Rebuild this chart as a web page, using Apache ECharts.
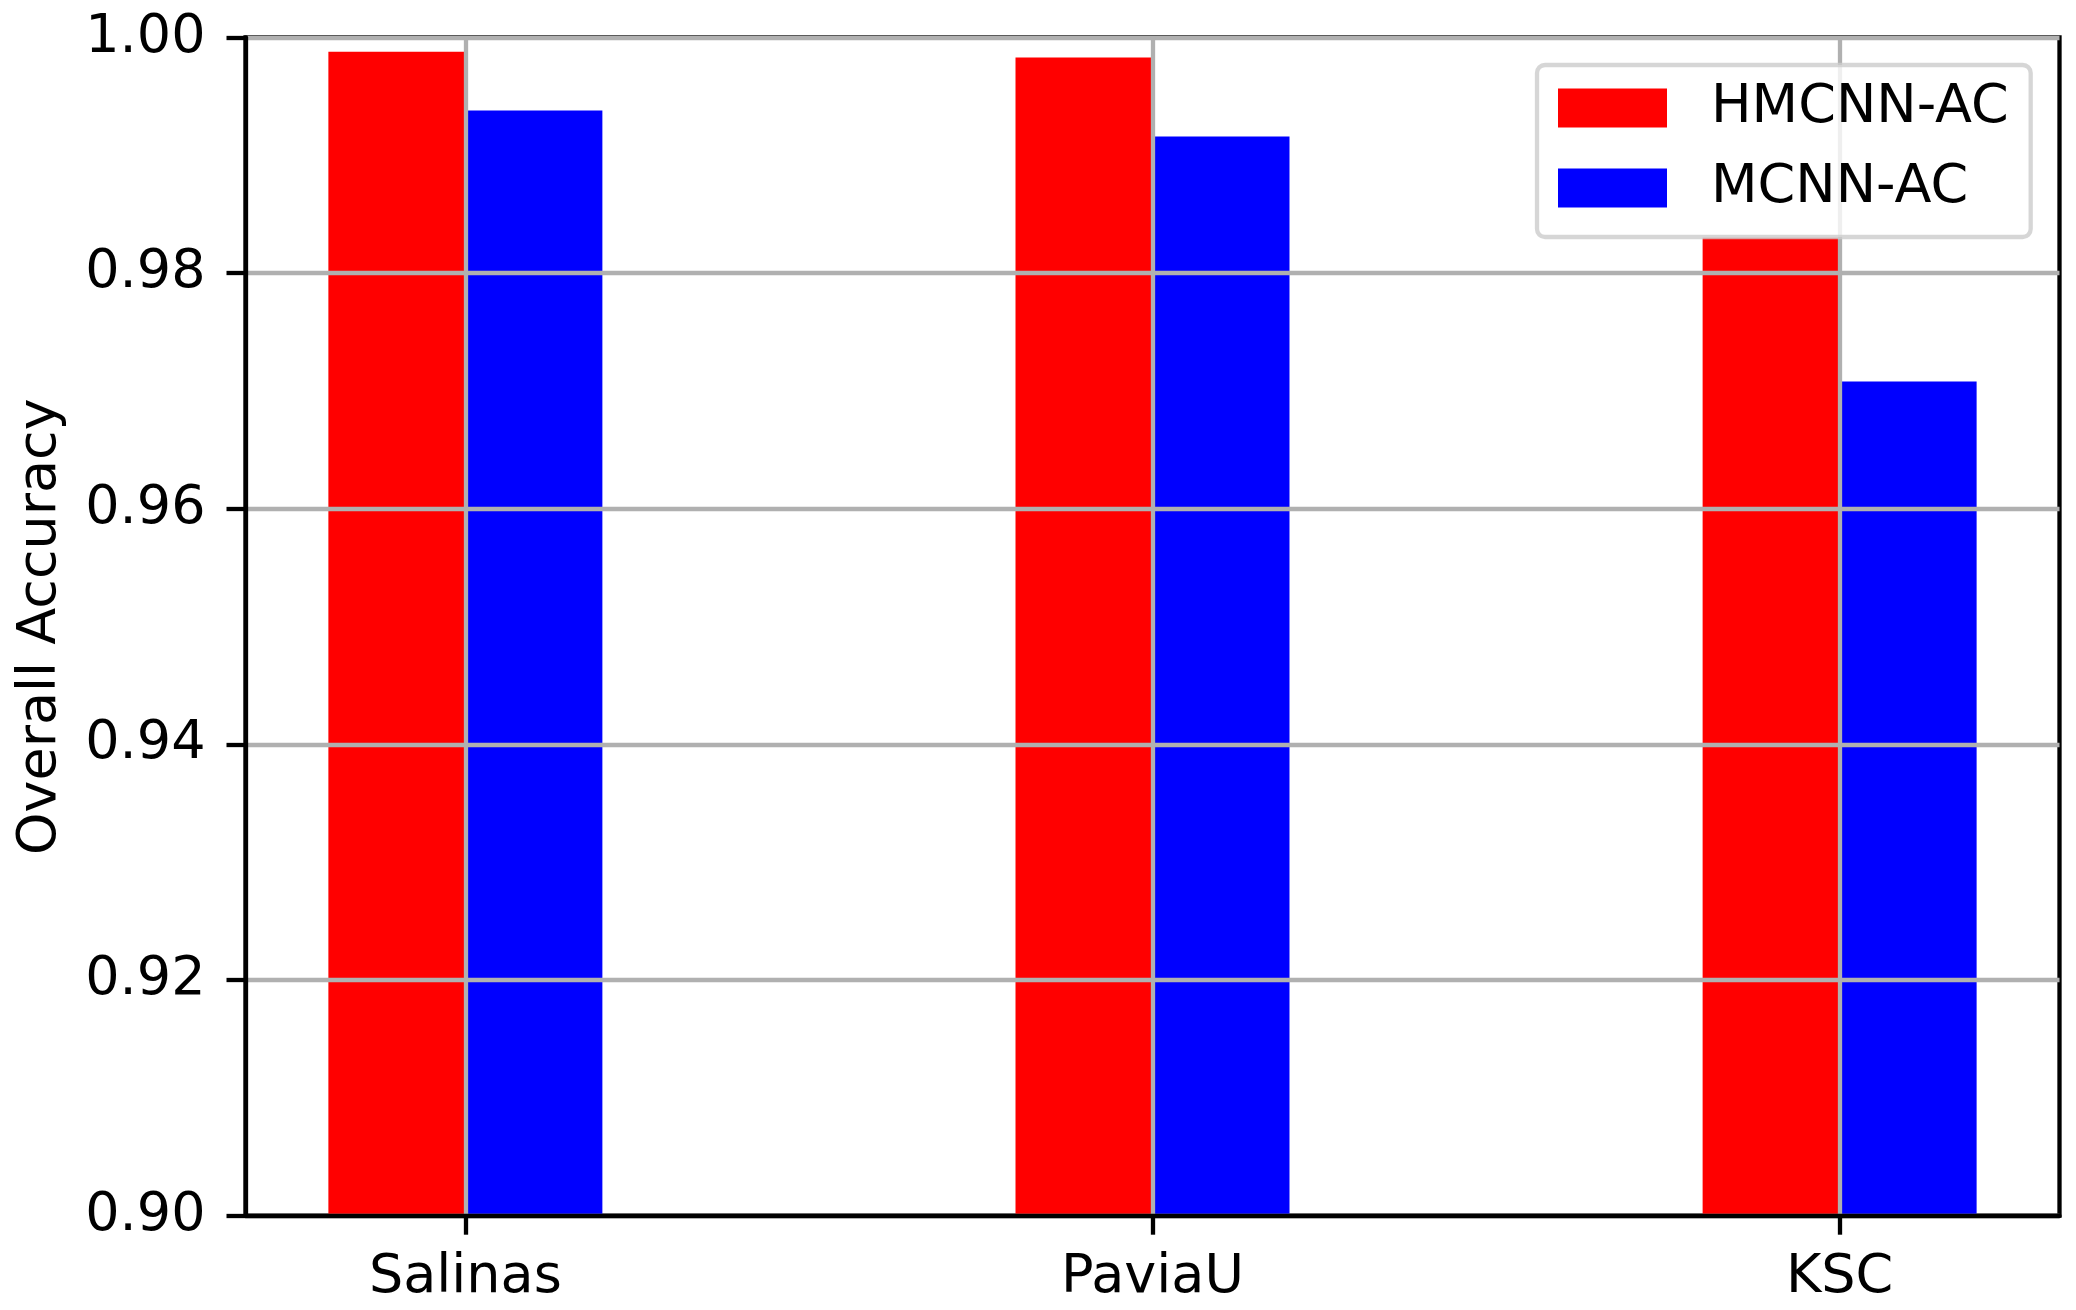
<!DOCTYPE html>
<html>
<head>
<meta charset="utf-8">
<title>Overall Accuracy</title>
<script src="https://cdn.jsdelivr.net/npm/echarts@6/dist/echarts.min.js"></script>
<style>
  html, body { margin: 0; padding: 0; background: #fff; }
  #chart-overall-accuracy { width: 2076px; height: 1310px; }
</style>
</head>
<body>
<div id="chart-overall-accuracy"></div>
<script>
// data
var categories = ["Salinas", "PaviaU", "KSC"];
var categoryPos = [0, 1, 2];
var hmcnnAc = [0.9988, 0.9983, 0.9830];
var mcnnAc = [0.9938, 0.9916, 0.9708];
var seriesNames = ["HMCNN-AC", "MCNN-AC"];

var font = "DejaVu Sans";
var lineW = 4.3;

function toPoints(values) {
  return values.map(function (v, i) {
    return [categoryPos[i], v];
  });
}

var chart = echarts.init(document.getElementById("chart-overall-accuracy"));
chart.setOption({
  animation: false,
  backgroundColor: "#fff",
  textStyle: { fontFamily: font },
  grid: {
    left: 245.5,
    right: 16.5,
    top: 37.5,
    bottom: 94.3,
    show: true,
    borderColor: "#000",
    borderWidth: lineW,
  },
  legend: {
    orient: "vertical",
    left: 1537,
    top: 65,
    z: 10,
    icon: "rect",
    itemWidth: 109,
    itemHeight: 39,
    itemGap: 26,
    padding: [16, 22, 22, 21],
    backgroundColor: "rgba(255,255,255,0.8)",
    borderColor: "rgba(204,204,204,0.8)",
    borderWidth: lineW,
    borderRadius: 8,
    textStyle: {
      fontFamily: font,
      fontSize: 54,
      lineHeight: 54,
      color: "#000",
      padding: [0, 0, 0, 39],
    },
    data: seriesNames,
  },
  xAxis: {
    type: "value",
    min: -0.32,
    max: 2.32,
    z: 3,
    axisLine: { onZero: false, lineStyle: { color: "#000", width: lineW } },
    axisTick: {
      customValues: categoryPos,
      length: 19,
      lineStyle: { color: "#000", width: lineW },
    },
    axisLabel: {
      customValues: categoryPos,
      margin: 35,
      fontSize: 54,
      fontFamily: font,
      color: "#000",
      formatter: function (value) {
        return categories[Math.round(value)];
      },
    },
    splitLine: {
      show: true,
      lineStyle: { color: "#b0b0b0", width: lineW },
    },
  },
  yAxis: {
    type: "value",
    min: 0.9,
    max: 1.0,
    interval: 0.02,
    z: 3,
    name: "Overall Accuracy",
    nameLocation: "middle",
    nameGap: 178,
    nameTextStyle: { fontSize: 54, fontFamily: font, color: "#000" },
    axisLine: {
      show: true,
      onZero: false,
      lineStyle: { color: "#000", width: lineW },
    },
    axisTick: {
      show: true,
      length: 19,
      lineStyle: { color: "#000", width: lineW },
    },
    axisLabel: {
      margin: 40,
      fontSize: 54,
      fontFamily: font,
      color: "#000",
      formatter: function (value) {
        return value.toFixed(2);
      },
    },
    splitLine: {
      show: true,
      lineStyle: { color: "#b0b0b0", width: lineW },
    },
  },
  series: [
    {
      name: seriesNames[0],
      type: "bar",
      z: 2,
      barWidth: 137,
      barGap: "0%",
      itemStyle: { color: "#ff0000" },
      data: toPoints(hmcnnAc),
    },
    {
      name: seriesNames[1],
      type: "bar",
      z: 2,
      barWidth: 137,
      barGap: "0%",
      itemStyle: { color: "#0000ff" },
      data: toPoints(mcnnAc),
    },
  ],
});
</script>
</body>
</html>
